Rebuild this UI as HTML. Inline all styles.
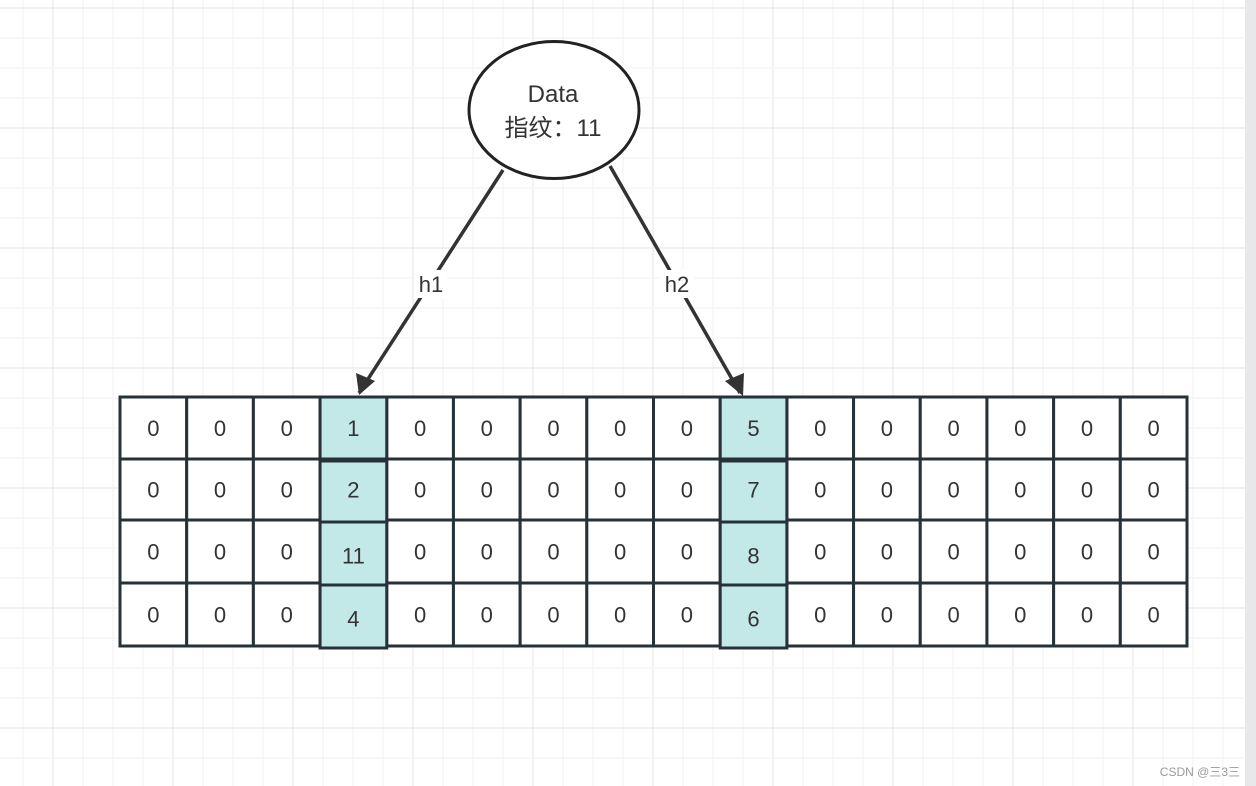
<!DOCTYPE html>
<html><head><meta charset="utf-8"><style>
html,body{margin:0;padding:0;width:1256px;height:786px;overflow:hidden;background:#fff}
svg{display:block}
text{font-family:"Liberation Sans","Noto Sans CJK SC",sans-serif;fill:#333}
</style></head><body>
<svg id="s" width="1256" height="786" xmlns="http://www.w3.org/2000/svg">
<g id="grid"></g>
<rect x="1245" y="0" width="11" height="786" fill="#e8e8ea"/>
<g id="tbl"></g>
<line x1="503" y1="170" x2="359" y2="393" stroke="#333" stroke-width="3.5"/>
<path d="M359,395 L356,373 L375,381 Z" fill="#333"/>
<line x1="610" y1="166" x2="740" y2="393" stroke="#333" stroke-width="3.5"/>
<path d="M743,396 L725,381 L744,373 Z" fill="#333"/>
<rect x="415" y="270" width="32" height="28" fill="#fff"/>
<text x="431" y="292" font-size="22" text-anchor="middle">h1</text>
<rect x="660" y="270" width="34" height="28" fill="#fff"/>
<text x="677" y="292" font-size="22" text-anchor="middle">h2</text>
<ellipse cx="554" cy="110" rx="85" ry="68.5" fill="#fff" stroke="#222" stroke-width="3"/>
<text x="553" y="102" font-size="24" text-anchor="middle">Data</text>
<text x="553" y="136" font-size="24" text-anchor="middle">指纹：11</text>
<text x="1240" y="776" font-size="12" text-anchor="end" style="fill:#999">CSDN @三3三</text>
</svg>
<script>
const rows = [
 [0,0,0,1,0,0,0,0,0,5,0,0,0,0,0,0],
 [0,0,0,2,0,0,0,0,0,7,0,0,0,0,0,0],
 [0,0,0,11,0,0,0,0,0,8,0,0,0,0,0,0],
 [0,0,0,4,0,0,0,0,0,6,0,0,0,0,0,0]
];
const highlightCols = [3, 9];
const NS = "http://www.w3.org/2000/svg";
const grid = document.getElementById('grid');
for (let x = 23; x < 1245; x += 30) {
  const l = document.createElementNS(NS,'line');
  const major = ((x - 53) % 120 === 0);
  l.setAttribute('x1', x); l.setAttribute('x2', x); l.setAttribute('y1', 0); l.setAttribute('y2', 786);
  l.setAttribute('stroke', major ? '#e8e8e8' : '#f3f3f3'); l.setAttribute('stroke-width', 1.2);
  
  
  grid.appendChild(l);
}
for (let y = 8; y < 786; y += 30) {
  const l = document.createElementNS(NS,'line');
  const major = ((y - 8) % 120 === 0);
  l.setAttribute('y1', y); l.setAttribute('y2', y); l.setAttribute('x1', 0); l.setAttribute('x2', 1245);
  l.setAttribute('stroke', major ? '#e8e8e8' : '#f3f3f3'); l.setAttribute('stroke-width', 1.2);
  
  
  grid.appendChild(l);
}
const tbl = document.getElementById('tbl');
const x0 = 120, x1 = 1187, ys = [397, 459, 520, 583, 646];
const cw = (x1 - x0) / rows[0].length;
const order = [];
rows.forEach((r, ri) => r.forEach((v, ci) => order.push([ri, ci, v])));
order.sort((a, b) => (highlightCols.includes(a[1]) ? 1 : 0) - (highlightCols.includes(b[1]) ? 1 : 0));
order.forEach(([ri, ci, v]) => {
  const hl = highlightCols.includes(ci);
  const x = x0 + ci * cw, y = ys[ri], h = ys[ri + 1] - ys[ri];
  const r = document.createElementNS(NS,'rect');
  r.setAttribute('x', x); r.setAttribute('y', y + (hl && ri > 0 ? 2 : 0)); r.setAttribute('width', cw); r.setAttribute('height', h);
  r.setAttribute('fill', hl ? '#c2e8e8' : '#fff'); r.setAttribute('stroke', '#263238'); r.setAttribute('stroke-width', 3);
  
  
  tbl.appendChild(r);
  const t = document.createElementNS(NS,'text');
  t.setAttribute('x', x + cw / 2); t.setAttribute('y', y + h / 2 + 8 + (hl && ri > 1 ? 4 : 0));
  t.setAttribute('font-size', '22'); t.setAttribute('text-anchor', 'middle');
  t.textContent = v;
  
  
  tbl.appendChild(t);
});
</script>
</body></html>
